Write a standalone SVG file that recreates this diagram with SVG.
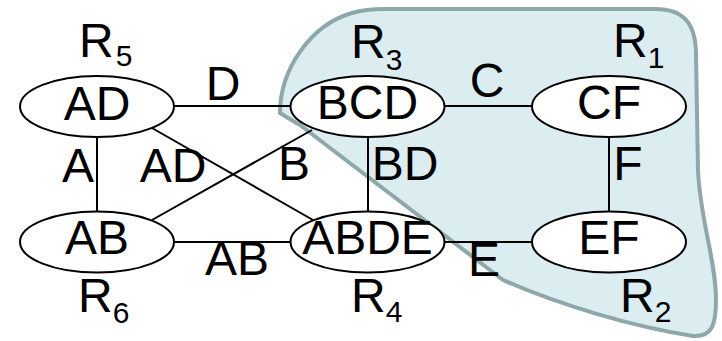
<svg xmlns="http://www.w3.org/2000/svg" width="722" height="341" viewBox="0 0 722 341">
<style>
text{font-family:"Liberation Sans",Arial,sans-serif;font-size:48px;fill:#000}
.sub{font-size:30px}
.m{text-anchor:middle}
ellipse{fill:#fff;stroke:#000;stroke-width:2}
line{stroke:#000;stroke-width:2}
</style>
<rect width="722" height="341" fill="#fff"/>
<path id="region" d="M 280,113 C 280,70 310,25 352,13 Q 365,9 385,9 L 655,9 C 685,9 696,25 696,55 L 698,170 C 700,220 716,260 716,300 C 716,325 712,337 693,336 C 630,326 560,305 503,280 L 300,125 Q 288,118 280,113 Z" fill="#dbedf0" stroke="#8ea8aa" stroke-width="4" stroke-linejoin="round"/>
<g id="connectors">
<line x1="174" y1="106" x2="291" y2="106"/>
<line x1="174" y1="242" x2="291" y2="242"/>
<line x1="444" y1="106" x2="532" y2="106"/>
<line x1="444" y1="242" x2="532" y2="242"/>
<line x1="97" y1="137" x2="97" y2="212"/>
<line x1="368" y1="137" x2="368" y2="212"/>
<line x1="609" y1="137" x2="609" y2="212"/>
<line x1="152" y1="128" x2="313" y2="220"/>
<line x1="152" y1="220" x2="312" y2="130"/>
<text class="m" x="223" y="100">D</text>
<text class="m" x="487" y="97">C</text>
<text class="m" x="78" y="182">A</text>
<text class="m" x="173" y="182">AD</text>
<text class="m" x="294" y="180">B</text>
<text class="m" x="405" y="180">BD</text>
<text class="m" x="628" y="180">F</text>
<text class="m" x="237" y="275">AB</text>
<text class="m" x="484" y="276">E</text>
</g>
<g id="AD"><ellipse cx="97" cy="106.5" rx="77" ry="30.5"/><text class="m" x="97" y="120">AD</text></g>
<g id="AB"><ellipse cx="97" cy="242" rx="77" ry="30.5"/><text class="m" x="97" y="254">AB</text></g>
<g id="BCD"><ellipse cx="367.5" cy="106.5" rx="77" ry="30.5"/><text class="m" x="367.5" y="119">BCD</text></g>
<g id="ABDE"><ellipse cx="367.5" cy="242" rx="77" ry="30.5"/><text class="m" x="367.5" y="254">ABDE</text></g>
<g id="CF"><ellipse cx="609" cy="106.5" rx="77" ry="30.5"/><text class="m" x="609" y="119">CF</text></g>
<g id="EF"><ellipse cx="609" cy="242" rx="77" ry="30.5"/><text class="m" x="609" y="254">EF</text></g>
<g id="labels">
<text x="79" y="57">R<tspan class="sub" dx="2" dy="9">5</tspan></text>
<text x="351" y="58">R<tspan class="sub" dy="12">3</tspan></text>
<text x="613" y="57">R<tspan class="sub" dy="11">1</tspan></text>
<text x="78" y="312">R<tspan class="sub" dy="11">6</tspan></text>
<text x="351" y="312">R<tspan class="sub" dy="10">4</tspan></text>
<text x="620" y="312">R<tspan class="sub" dy="10">2</tspan></text>
</g>
</svg>
